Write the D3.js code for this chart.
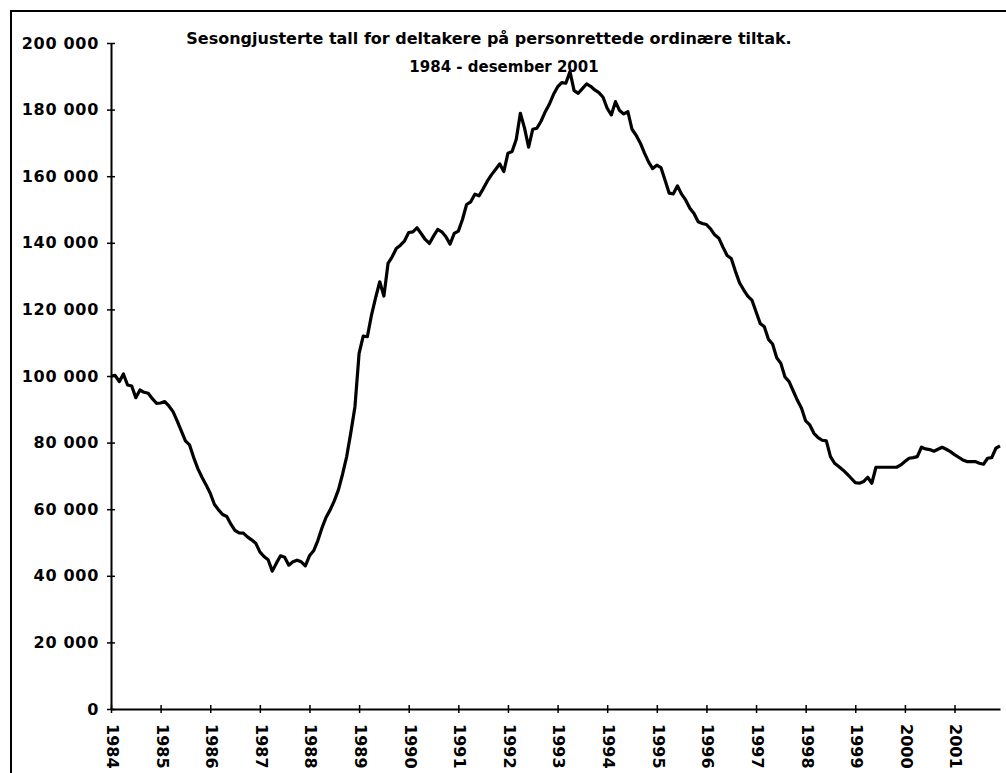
<!DOCTYPE html>
<html>
<head>
<meta charset="utf-8">
<script src="https://cdn.jsdelivr.net/npm/d3@7"></script>
<style>
  html, body { margin: 0; padding: 0; background: #fff; overflow: hidden; }
  svg { display: block; }
  text { font-family: "DejaVu Sans", Verdana, sans-serif; font-weight: bold; fill: #000; }
</style>
</head>
<body>
<svg id="chart" width="1006" height="773"></svg>
<script>
const titleLines = ["Sesongjusterte tall for deltakere på personrettede ordinære tiltak.", "1984 - desember 2001"];
const years = [1984,1985,1986,1987,1988,1989,1990,1991,1992,1993,1994,1995,1996,1997,1998,1999,2000,2001];
const yTicks = [0,20000,40000,60000,80000,100000,120000,140000,160000,180000,200000];

const v1984 = [100000,100200,98300,100600,97300,97000,93500,95800,95100,94800,93200,91800];
const v1985 = [91900,92300,91000,89300,86500,83500,80500,79300,75500,72200,69600,67300];
const v1986 = [64800,61500,59800,58400,57800,55500,53600,52900,52800,51700,50800,49800];
const v1987 = [47200,45800,44800,41400,43800,46000,45600,43200,44200,44700,44200,43000];
const v1988 = [46000,47500,50500,54300,57500,59800,62500,65800,70500,75800,83000,90800];
const v1989 = [106800,112000,111800,118300,123500,128300,124000,133800,135800,138300,139300,140600];
const v1990 = [143100,143300,144500,142800,141000,139800,142000,144000,143300,141800,139600,142800];
const v1991 = [143500,147000,151500,152300,154600,154100,156200,158500,160400,162000,163700,161400];
const v1992 = [166900,167400,171000,178900,174500,168700,174100,174400,176500,179300,181600,184500];
const v1993 = [186800,188100,187900,191400,185700,184900,186300,187700,187000,185900,185100,183700];
const v1994 = [180400,178400,182400,179700,178700,179400,174100,172300,170000,167000,164300,162300];
const v1995 = [163300,162600,158800,154900,154700,157100,154600,152800,150400,148800,146300,145800];
const v1996 = [145500,144200,142400,141400,138700,136200,135300,131500,128000,125900,124000,122800];
const v1997 = [119300,115800,114800,111000,109600,105500,103800,99700,98300,95500,92700,90300];
const v1998 = [86500,85300,82800,81500,80700,80500,75800,73800,72800,71800,70600,69300];
const v1999 = [68000,67800,68300,69600,67800,72600,72600,72600,72600,72600,72600,73300];
const v2000 = [74300,75300,75500,75800,78600,78100,77900,77400,78000,78600,78000,77300];
const v2001 = [76400,75600,74800,74300,74300,74300,73800,73500,75300,75500,78300,79000];

const values = [].concat(v1984,v1985,v1986,v1987,v1988,v1989,v1990,v1991,v1992,v1993,
                         v1994,v1995,v1996,v1997,v1998,v1999,v2000,v2001);

const svg = d3.select("#chart");
const mLeft = 111, mRight = 1000, mTop = 43, mBottom = 709;

// outer frame (extends beyond the visible area, as in the reference)
svg.append("rect").attr("x", 11).attr("y", 11).attr("width", 1100).attr("height", 900)
  .attr("fill", "none").attr("stroke", "#000").attr("stroke-width", 2);

const x = d3.scaleLinear().domain([0, values.length - 1]).range([mLeft, mRight]);
const y = d3.scaleLinear().domain([0, 200000]).range([mBottom, mTop]);

const fmt = v => d3.format(",")(v).replace(/,/g, " ");

// Y axis
const yAxis = svg.append("g").attr("transform", `translate(${mLeft},0)`)
  .call(d3.axisLeft(y).tickValues(yTicks).tickFormat(fmt).tickSizeInner(4).tickSizeOuter(0).tickPadding(8));
yAxis.select(".domain").attr("stroke", "#000").attr("stroke-width", 2);
yAxis.selectAll(".tick line").attr("x1", -4).attr("x2", 4).attr("stroke", "#000").attr("stroke-width", 1.5);
yAxis.selectAll(".tick text").attr("font-size", 16).attr("letter-spacing", "0.7px")
  .attr("font-family", "DejaVu Sans").attr("font-weight", "bold").attr("fill", "#000");

// X axis
const xTickIdx = years.map((d, i) => i * 12);
const xAxis = svg.append("g").attr("transform", `translate(0,${mBottom})`)
  .call(d3.axisBottom(x).tickValues(xTickIdx).tickFormat((d, i) => years[i]).tickSizeInner(4).tickSizeOuter(0));
xAxis.select(".domain").attr("stroke", "#000").attr("stroke-width", 2);
xAxis.selectAll(".tick line").attr("y1", -4).attr("y2", 4).attr("stroke", "#000").attr("stroke-width", 1.5);
xAxis.selectAll(".tick text")
  .attr("font-size", 16).attr("font-family", "DejaVu Sans").attr("font-weight", "bold").attr("fill", "#000")
  .attr("text-anchor", "start").attr("transform", "rotate(90)")
  .attr("x", 15).attr("y", -1).attr("dy", "0.35em");

// Line
const line = d3.line().x((d, i) => x(i)).y(d => y(d));
svg.append("path").datum(values).attr("d", line)
  .attr("fill", "none").attr("stroke", "#000").attr("stroke-width", 3.2).attr("stroke-linejoin", "round");

// Title
svg.append("text").attr("x", 489).attr("y", 44).attr("text-anchor", "middle").attr("font-size", 16).text(titleLines[0]);
svg.append("text").attr("x", 504).attr("y", 72).attr("text-anchor", "middle").attr("font-size", 15).text(titleLines[1]);
</script>
</body>
</html>
